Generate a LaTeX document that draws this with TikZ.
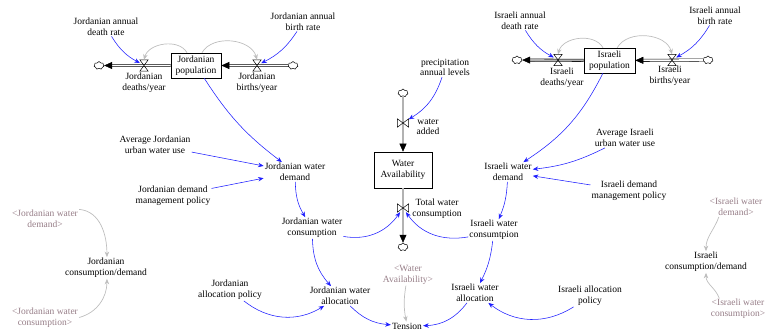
\documentclass[tikz,border=0pt]{standalone}
\usepackage{fontspec}
\setmainfont{Liberation Serif}
\usepackage{tikz}
\usetikzlibrary{arrows.meta,shapes.symbols}

\definecolor{linkblue}{RGB}{30,30,255}
\definecolor{ghosttext}{RGB}{150,125,135}
\definecolor{ghostline}{RGB}{190,190,190}

\tikzset{
  var/.style={align=center, inner sep=1pt, font=\fontsize{9.5}{10.7}\selectfont},
  ghost/.style={var, text=ghosttext},
  level/.style={var, draw, line width=0.6pt, inner sep=0pt, minimum width=50pt, minimum height=25pt},
  link/.style={draw=linkblue, line width=0.55pt, -{Stealth[length=5.5pt,width=4.5pt]}},
  glink/.style={draw=ghostline, line width=0.7pt, -{Stealth[length=5.5pt,width=4.5pt]}},
  pipe/.style={line width=0.55pt, double=white, double distance=1.8pt, -{Triangle[length=8pt,width=7pt]}},
  gpipe/.style={pipe, double=gray!60},
  sink/.style={cloud, cloud puffs=7, aspect=1.3, draw, line width=0.5pt, fill=white, minimum width=10pt, minimum height=8pt, inner sep=0pt},
  hvalve/.style={minimum width=8pt, minimum height=11pt, inner sep=0pt},
  vvalve/.style={minimum width=11pt, minimum height=8pt, inner sep=0pt},
}

\begin{document}
\begin{tikzpicture}[x=1pt,y=1pt]
  \useasboundingbox (0,0) rectangle (765,-335);

  % stocks
  \node[level] (jpop) at (196,-65.5) {Jordanian\\population};
  \node[level, minimum width=51pt] (ipop) at (609.5,-60.5) {Israeli\\population};
  \node[level, minimum width=58pt, minimum height=36pt] (water) at (403,-170) {Water\\Availability};

  % clouds
  \node[sink] (cJD) at (99,-65.5) {};
  \node[sink] (cJB) at (293,-65.5) {};
  \node[sink] (cID) at (517,-60) {};
  \node[sink] (cIB) at (708,-60) {};
  \node[sink] (cWin) at (403,-93) {};
  \node[sink] (cWout) at (403,-247) {};

  % pipes
  \draw[pipe] (jpop) -- (cJD);
  \draw[pipe] (cJB) -- (jpop);
  \draw[gpipe] (ipop) -- (cID);
  \draw[pipe] (cIB) -- (ipop);
  \draw[gpipe] (cWin) -- (water);
  \draw[gpipe] (water) -- (cWout);

  % valves
  \node[hvalve] (vJD) at (144,-65.5) {};
  \node[hvalve] (vJB) at (257,-65.5) {};
  \node[hvalve] (vID) at (558,-60) {};
  \node[hvalve] (vIB) at (672,-60) {};
  \node[vvalve] (vW) at (403,-123) {};
  \node[vvalve] (vTC) at (403,-208) {};
  \foreach \v in {vJD,vJB,vID,vIB}
    \draw[line width=0.5pt] (\v.north west) -- (\v.north east) -- (\v.south west) -- (\v.south east) -- cycle;
  \foreach \v in {vW,vTC}
    \draw[line width=0.5pt] (\v.north west) -- (\v.south east) -- (\v.north east) -- (\v.south west) -- cycle;

  % rate names
  \node[var] (jdeaths) at (144,-82.5) {Jordanian\\deaths/year};
  \node[var] (jbirths) at (257,-82.5) {Jordanian\\births/year};
  \node[var] (ideaths) at (562,-78) {Israeli\\deaths/year};
  \node[var] (ibirths) at (670,-76) {Israeli\\births/year};
  \node[var] (wadded) at (428,-127) {water\\added};
  \node[var] (tcons) at (437,-209) {Total water\\consumption};

  % auxiliaries
  \node[var] (jdr) at (106,-26.5) {Jordanian annual\\death rate};
  \node[var] (jbr) at (303,-21.5) {Jordanian annual\\birth rate};
  \node[var] (idr) at (520,-20.5) {Israeli annual\\death rate};
  \node[var] (ibr) at (715,-15.5) {Israeli annual\\birth rate};
  \node[var] (precip) at (445,-67.5) {precipitation\\annual levels};

  \node[var] (jdem) at (295,-172) {Jordanian water\\demand};
  \node[var] (javg) at (155,-145) {Average Jordanian\\urban water use};
  \node[var] (jdpol) at (173,-196) {Jordanian demand\\management policy};
  \node[var] (jcon) at (312,-228) {Jordanian water\\consumption};
  \node[var] (jalloc) at (340,-296) {Jordanian water\\allocation};
  \node[var] (jalpol) at (230,-290) {Jordanian\\allocation policy};

  \node[var] (idem) at (508,-172) {Israeli water\\demand};
  \node[var] (iavg) at (625,-138) {Average Israeli\\urban water use};
  \node[var] (idpol) at (629,-191) {Israeli demand\\management policy};
  \node[var] (icon) at (494,-230) {Israeli water\\consumtpion};
  \node[var] (ialloc) at (475,-293) {Israeli water\\allocation};
  \node[var] (ialpol) at (590,-296) {Israeli allocation\\policy};

  \node[var] (tension) at (407,-326) {Tension};
  \node[ghost] (wavail) at (408,-275) {<Water\\Availability>};

  \node[ghost] (jdemS) at (45,-218.5) {<Jordanian water\\demand>};
  \node[var] (jcd) at (106,-268) {Jordanian\\consumption/demand};
  \node[ghost] (jconS) at (45,-317.5) {<Jordanian water\\consumption>};
  \node[ghost] (idemS) at (736,-207) {<Israeli water\\demand>};
  \node[var] (icd) at (706,-262) {Israeli\\consumption/demand};
  \node[ghost] (iconS) at (738,-309) {<Israeli water\\consumtpion>};

  % population loops
  \draw[link] (jdr) to[bend right=15] (vJD);
  \draw[link] (jbr) to[bend left=15] (vJB);
  \draw[link] (idr) to[bend right=15] (vID);
  \draw[link] (ibr) to[bend left=15] (vIB);
  \draw[glink] (jpop.125) to[out=120,in=75] (vJD.north);
  \draw[glink] (jpop.65) to[out=60,in=105] (vJB.north);
  \draw[glink] (ipop.117) to[out=120,in=75] (vID.north);
  \draw[glink] (ipop.59) to[out=60,in=105] (vIB.north);

  % water
  \draw[link] (precip) to[bend left=20] (vW);
  \draw[link] (jcon.-15) to[out=-10,in=-125] (vTC);
  \draw[link] (icon.195) to[out=190,in=-55] (vTC);

  % Jordanian side
  \draw[link] (jpop) to[bend right=10] (jdem);
  \draw[link] (javg) to (jdem);
  \draw[link] (jdpol) to (jdem);
  \draw[link] (jdem) to[bend right=15] (jcon);
  \draw[link] (jcon) to[bend right=20] (jalloc);
  \draw[link] (jalpol) to[bend right=35] (jalloc);
  \draw[link] (jalloc) to[bend right=20] (tension);

  % Israeli side
  \draw[link] (ipop) to[bend left=15] (idem);
  \draw[link] (iavg) to[bend left=10] (idem);
  \draw[link] (idpol) to (idem);
  \draw[link] (idem) to[bend left=10] (icon);
  \draw[link] (icon) to[bend left=10] (ialloc);
  \draw[link] (ialpol) to[bend left=35] (ialloc);
  \draw[link] (ialloc) to[bend left=25] (tension);
  \draw[glink] (wavail) to[bend right=10] (tension);

  % consumption/demand views
  \draw[glink] (jdemS.15) to[out=-5,in=90] (jcd.85);
  \draw[glink] (jconS.east) to[out=15,in=-90] (jcd.-85);
  \draw[glink] (idemS.-150) to[out=-110,in=90] (icd.north);
  \draw[glink] (iconS.150) to[out=110,in=-90] (icd.south);
\end{tikzpicture}
\end{document}
